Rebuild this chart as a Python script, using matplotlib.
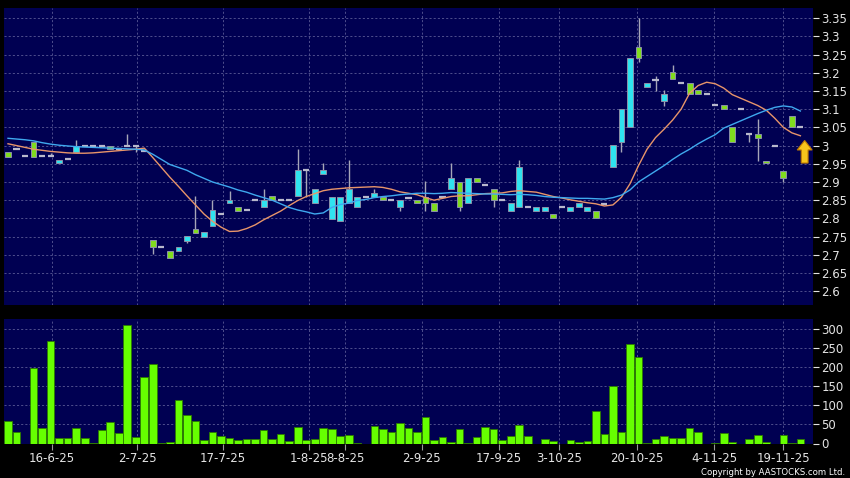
import matplotlib
matplotlib.use("Agg")
import matplotlib.pyplot as plt
from matplotlib.patches import FancyArrow
import numpy as np

# daily candles (one entry per trading day)
opens = [2.982, 2.99, 2.971, 3.011, 2.971, 2.971, 2.952, 2.962, 2.982, 3.0,
         3.0, 3.0, 3.0, 2.99, 3.0, 3.0, 2.985, 2.741, 2.721, 2.711,
         2.709, 2.739, 2.771, 2.75, 2.78, 2.812, 2.841, 2.83, 2.823, 2.85,
         2.83, 2.861, 2.85, 2.85, 2.862, 2.932, 2.842, 2.921, 2.799, 2.793,
         2.842, 2.83, 2.86, 2.86, 2.86, 2.85, 2.83, 2.855, 2.85, 2.86,
         2.842, 2.86, 2.88, 2.901, 2.842, 2.91, 2.892, 2.88, 2.85, 2.821,
         2.83, 2.83, 2.821, 2.821, 2.812, 2.83, 2.821, 2.83, 2.821, 2.821,
         2.84, 2.941, 3.011, 3.05, 3.27, 3.16, 3.18, 3.122, 3.202, 3.171,
         3.171, 3.153, 3.142, 3.111, 3.111, 3.05, 3.1, 3.031, 3.031, 2.959,
         3.0, 2.931, 3.082, 3.05]
closes = [2.97, 2.99, 2.971, 2.97, 2.971, 2.971, 2.96, 2.962, 3.0, 3.0,
          3.0, 3.0, 2.99, 2.99, 3.0, 3.0, 2.985, 2.721, 2.721, 2.69,
          2.721, 2.751, 2.761, 2.763, 2.823, 2.812, 2.85, 2.821, 2.823, 2.85,
          2.85, 2.85, 2.85, 2.85, 2.933, 2.932, 2.88, 2.933, 2.86, 2.86,
          2.88, 2.86, 2.86, 2.871, 2.85, 2.85, 2.85, 2.855, 2.841, 2.842,
          2.821, 2.86, 2.91, 2.83, 2.91, 2.901, 2.892, 2.85, 2.85, 2.842,
          2.941, 2.83, 2.83, 2.83, 2.801, 2.83, 2.83, 2.842, 2.83, 2.801,
          2.84, 3.002, 3.1, 3.24, 3.24, 3.171, 3.18, 3.142, 3.183, 3.171,
          3.142, 3.142, 3.142, 3.111, 3.1, 3.011, 3.1, 3.031, 3.02, 2.952,
          3.0, 2.91, 3.05, 3.05]
highs = [2.982, 2.99, 2.971, 3.011, 2.971, 2.98, 2.96, 2.962, 3.014, 3.0,
         3.0, 3.0, 3.0, 2.99, 3.032, 3.0, 2.985, 2.741, 2.721, 2.711,
         2.721, 2.751, 2.862, 2.763, 2.851, 2.812, 2.874, 2.83, 2.823, 2.85,
         2.88, 2.861, 2.85, 2.85, 2.991, 2.932, 2.88, 2.952, 2.86, 2.86,
         2.961, 2.86, 2.86, 2.88, 2.86, 2.85, 2.85, 2.855, 2.85, 2.903,
         2.842, 2.86, 2.952, 2.901, 2.91, 2.91, 2.892, 2.88, 2.85, 2.842,
         2.961, 2.83, 2.83, 2.83, 2.812, 2.83, 2.83, 2.842, 2.83, 2.821,
         2.84, 3.002, 3.1, 3.24, 3.35, 3.171, 3.19, 3.153, 3.222, 3.171,
         3.171, 3.153, 3.142, 3.111, 3.111, 3.05, 3.1, 3.031, 3.072, 2.959,
         3.0, 2.931, 3.082, 3.05]
lows = [2.97, 2.99, 2.971, 2.97, 2.971, 2.971, 2.952, 2.962, 2.982, 3.0,
        3.0, 3.0, 2.99, 2.99, 3.0, 2.982, 2.985, 2.702, 2.721, 2.69,
        2.709, 2.731, 2.761, 2.75, 2.78, 2.812, 2.841, 2.821, 2.823, 2.85,
        2.83, 2.85, 2.85, 2.85, 2.862, 2.86, 2.842, 2.921, 2.799, 2.793,
        2.842, 2.83, 2.86, 2.86, 2.85, 2.85, 2.821, 2.855, 2.841, 2.821,
        2.821, 2.86, 2.88, 2.821, 2.842, 2.901, 2.892, 2.83, 2.85, 2.821,
        2.83, 2.83, 2.821, 2.821, 2.801, 2.83, 2.821, 2.83, 2.821, 2.801,
        2.84, 2.941, 2.981, 3.05, 3.231, 3.16, 3.151, 3.11, 3.183, 3.171,
        3.142, 3.142, 3.142, 3.111, 3.1, 3.011, 3.1, 3.011, 2.959, 2.952,
        3.0, 2.901, 3.05, 3.05]
volumes = [60, 30, 0, 198, 41, 268, 14, 14.5, 40, 14,
           2.6, 35, 56, 27, 311, 17.5, 174, 208, 2, 3,
           115, 74, 59, 10.5, 30.6, 21, 14.5, 8.8, 11, 11,
           35, 11, 25, 6, 44, 8.7, 13, 41, 39, 20,
           22, 2.5, 0, 45.5, 39, 30.6, 52.6, 42, 29, 70,
           8.7, 17.5, 3, 36.8, 2, 16, 44, 39, 8.7, 19,
           48, 20, 0, 11, 6, 0, 9.6, 3, 6, 85,
           24.5, 151, 29, 261, 226, 1, 13, 19, 14, 14,
           39.5, 31.5, 0, 1, 28, 3, 0, 12, 22, 3,
           0, 22, 2, 12]

# moving averages as drawn (short = orange, long = blue)
ma_short = [3.005, 3.0, 2.995, 2.99, 2.987, 2.984, 2.982, 2.98, 2.979, 2.979,
            2.98, 2.982, 2.984, 2.986, 2.988, 2.99, 2.993, 2.967, 2.94, 2.913,
            2.888, 2.862, 2.837, 2.812, 2.792, 2.776, 2.764, 2.765, 2.772, 2.782,
            2.796, 2.808, 2.82, 2.835, 2.849, 2.86, 2.868, 2.876, 2.88, 2.882,
            2.884, 2.885, 2.886, 2.887, 2.885, 2.88, 2.873, 2.869, 2.865, 2.857,
            2.85, 2.855, 2.86, 2.862, 2.862, 2.865, 2.868, 2.869, 2.87, 2.874,
            2.876, 2.874, 2.872, 2.866, 2.86, 2.856, 2.851, 2.847, 2.843, 2.84,
            2.834, 2.837, 2.858, 2.895, 2.945, 2.99, 3.022, 3.045, 3.07, 3.1,
            3.144, 3.165, 3.174, 3.17, 3.158, 3.14, 3.13, 3.12, 3.11, 3.097,
            3.075, 3.05, 3.035, 3.027]
ma_long = [3.02, 3.018, 3.016, 3.013, 3.008, 3.004, 3.001, 2.999, 2.997, 2.996,
           2.995, 2.994, 2.993, 2.992, 2.991, 2.99, 2.988, 2.976, 2.962, 2.948,
           2.94, 2.932, 2.92, 2.91, 2.9, 2.893, 2.886, 2.878, 2.872, 2.864,
           2.857, 2.85, 2.84, 2.83, 2.823, 2.818, 2.812, 2.815, 2.83, 2.838,
           2.842, 2.849, 2.852, 2.857, 2.86, 2.862, 2.865, 2.867, 2.869, 2.869,
           2.868, 2.869, 2.871, 2.87, 2.869, 2.868, 2.867, 2.867, 2.866, 2.865,
           2.866, 2.865, 2.863, 2.86, 2.858, 2.857, 2.856, 2.855, 2.855, 2.854,
           2.853, 2.857, 2.864, 2.878, 2.9, 2.915, 2.93, 2.945, 2.962, 2.977,
           2.99, 3.005, 3.018, 3.03, 3.048, 3.058, 3.068, 3.078, 3.088, 3.097,
           3.105, 3.109, 3.106, 3.095]

date_labels = ['16-6-25', '2-7-25', '17-7-25', '1-8-25', '8-8-25', '2-9-25',
               '17-9-25', '3-10-25', '20-10-25', '4-11-25', '19-11-25']
date_pos = [5.13, 15.18, 25.2, 35.36, 39.55, 48.56, 57.63, 64.7, 73.86, 82.9, 91.0]

price_ticks = [2.6, 2.65, 2.7, 2.75, 2.8, 2.85, 2.9, 2.95, 3.0, 3.05,
               3.1, 3.15, 3.2, 3.25, 3.3, 3.35]
vol_ticks = [0, 50, 100, 150, 200, 250, 300]

NAVY = '#000052'
GRID = '#5a5a96'
TXT = '#e4e4e4'
CYAN = '#2fe3ef'
GREEN = '#80dc1e'
EDGE = '#8a90a8'
WICK = '#a6a6b8'

fig = plt.figure(figsize=(8.5, 4.78), dpi=100, facecolor='black')
ax = fig.add_axes([4 / 850, 1 - 305 / 478, 809 / 850, 297 / 478])
axv = fig.add_axes([4 / 850, 1 - 443.5 / 478, 809 / 850, 124.5 / 478])

x = np.arange(len(closes))
o = np.array(opens)
c = np.array(closes)
h = np.array(highs)
l = np.array(lows)
up = c > o
down = c < o
flat = c == o

# candles
ax.vlines(x, l, h, color=WICK, lw=1, zorder=3)
ax.bar(x[up], (c - o)[up], bottom=o[up], width=0.68, color=CYAN,
       edgecolor=EDGE, lw=0.7, zorder=4)
ax.bar(x[down], (o - c)[down], bottom=c[down], width=0.68, color=GREEN,
       edgecolor=EDGE, lw=0.7, zorder=4)
ax.hlines(c[flat], x[flat] - 0.36, x[flat] + 0.36, color='#b8b8cc', lw=1.6, zorder=4)

# moving averages
ax.plot(x, ma_short, color='#e8956a', lw=1.0, zorder=5)
ax.plot(x, ma_long, color='#3fa9ef', lw=1.0, zorder=5)

# signal arrow at the right edge
ax.add_patch(FancyArrow(len(closes) - 0.5, 2.952, 0, 0.062, width=0.8,
                        head_width=1.75, head_length=0.026,
                        length_includes_head=True, fc='#f7c51c',
                        ec='#c07a00', lw=0.8, zorder=6))

# volume
axv.bar(x, volumes, width=0.9, color='#66ff00', edgecolor='#2c7a00', lw=0.6, zorder=3)

for a in (ax, axv):
    a.set_facecolor(NAVY)
    a.set_xlim(-0.47, 94.48)
    for s in a.spines.values():
        s.set_visible(False)
    a.yaxis.tick_right()
    a.tick_params(axis='y', colors=TXT, labelsize=8.5, length=4, width=0.8,
                  pad=2, labelcolor=TXT)
    a.set_xticks(date_pos)
    a.grid(True, color=GRID, ls=(0, (2.5, 2.5)), lw=0.6, zorder=0)
    a.set_axisbelow(True)

ax.set_ylim(2.562, 3.378)
ax.set_yticks(price_ticks)
ax.set_yticklabels([f'{v:g}' for v in price_ticks])
ax.tick_params(axis='x', length=0, labelbottom=False)

axv.set_ylim(0, 327)
axv.set_yticks(vol_ticks)
axv.set_xticklabels(date_labels)
axv.tick_params(axis='x', colors='#9a9a9a', labelcolor=TXT, labelsize=8.5,
                length=4, width=0.8, pad=2)

fig.text(845 / 850, 1 - 472.5 / 478, 'Copyright by AASTOCKS.com Ltd.', ha='right',
         va='center', color='white', fontsize=6.8, fontstretch='condensed')

fig.savefig('out.png', dpi=100, facecolor='black')
